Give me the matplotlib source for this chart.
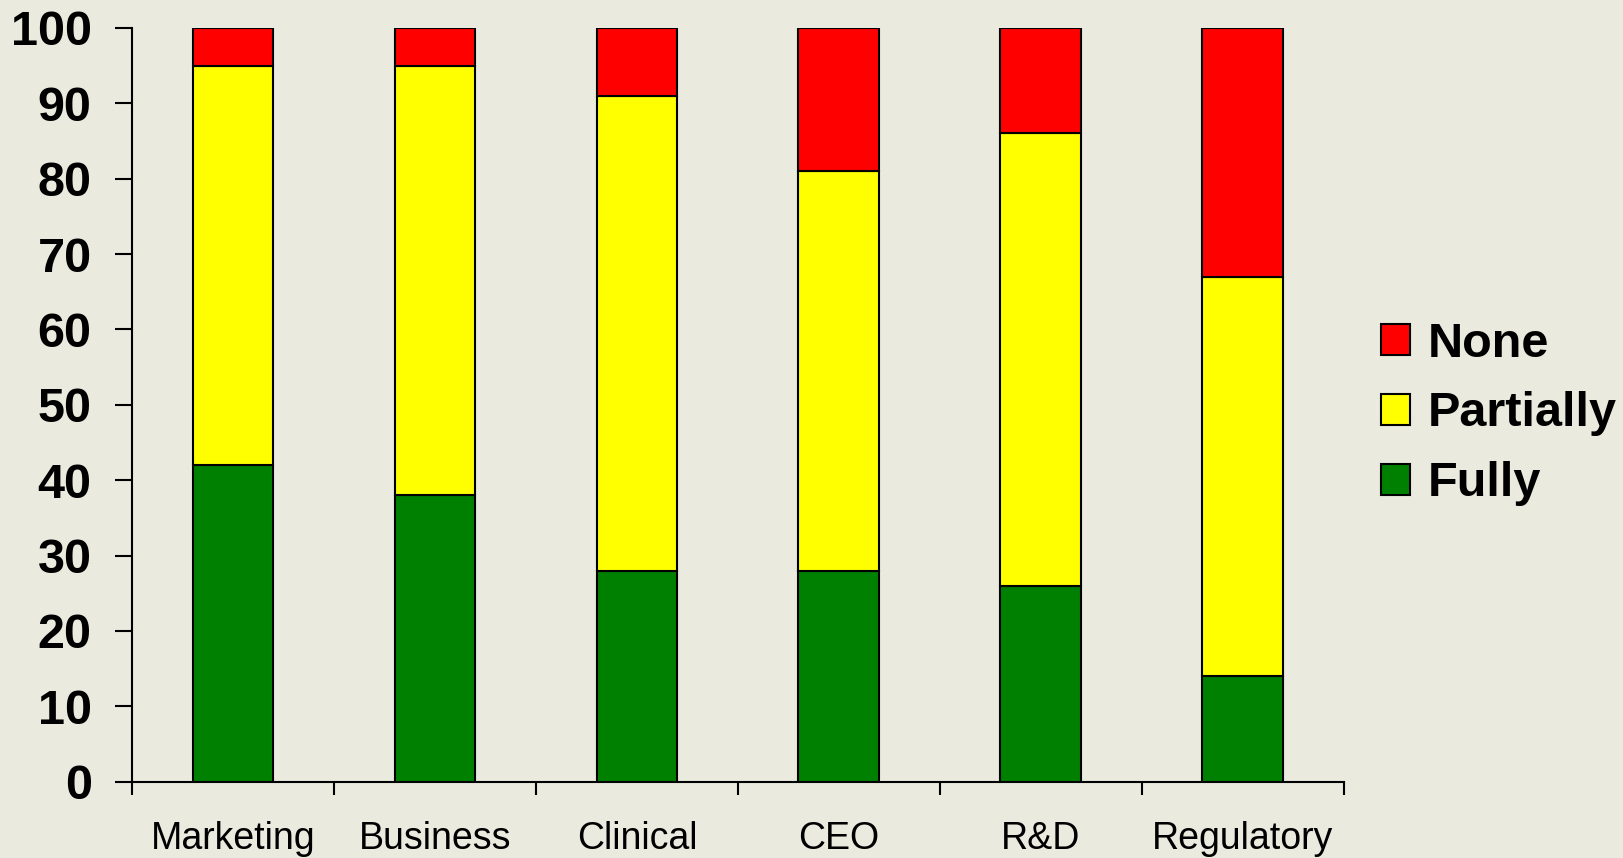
import numpy as np
import matplotlib.pyplot as plt
from matplotlib.patches import Patch

categories = ["Marketing", "Business", "Clinical", "CEO", "R&D", "Regulatory"]
fully = [42, 38, 28, 28, 26, 14]
partially = [53, 57, 63, 53, 60, 53]
none = [5, 5, 9, 19, 14, 33]

BG = '#EAEBDE'
plt.rcParams['font.family'] = ['Liberation Sans', 'DejaVu Sans']

fig = plt.figure(figsize=(16.23, 8.58), dpi=100, facecolor=BG)
ax = fig.add_axes([0.0813, 0.0889, 0.7467, 0.8785], facecolor=BG)

ind = np.arange(len(categories))
width = 0.4
bot2 = np.array(fully) + np.array(partially)
ax.bar(ind, fully, width, color='#008000', edgecolor='black', linewidth=1.5, zorder=3)
ax.bar(ind, partially, width, bottom=fully, color='#FFFF00', edgecolor='black', linewidth=1.5, zorder=3)
ax.bar(ind, none, width, bottom=bot2, color='#FF0000', edgecolor='black', linewidth=1.5, zorder=3)

ax.set_xlim(-0.5, len(categories) - 0.5)
ax.set_ylim(0, 100)
ax.set_yticks(np.arange(0, 101, 10))
ax.set_yticklabels([str(v) for v in range(0, 101, 10)], fontsize=35, fontweight='bold')
ax.tick_params(axis='y', direction='out', length=12, width=1.5, pad=17)

ax.set_xticks(ind)
ax.set_xticklabels(categories, fontsize=27)
ax.tick_params(axis='x', which='major', length=0, pad=28)
ax.set_xticks(np.arange(-0.5, len(categories), 1), minor=True)
ax.tick_params(axis='x', which='minor', direction='out', length=9, width=1.5)

for s in ['top', 'right']:
    ax.spines[s].set_visible(False)
for s in ['left', 'bottom']:
    ax.spines[s].set_linewidth(1.5)

handles = [Patch(facecolor='#FF0000', edgecolor='black', linewidth=1.5, label='None'),
           Patch(facecolor='#FFFF00', edgecolor='black', linewidth=1.5, label='Partially'),
           Patch(facecolor='#008000', edgecolor='black', linewidth=1.5, label='Fully')]
leg = fig.legend(handles=handles, loc='center left', bbox_to_anchor=(0.851, 0.5175),
                 frameon=False, prop={'size': 35, 'weight': 'bold'},
                 handlelength=0.6, handleheight=0.6, handletextpad=0.35,
                 labelspacing=0.51, borderpad=0, borderaxespad=0)

fig.savefig('out.png', dpi=100, facecolor=BG)
